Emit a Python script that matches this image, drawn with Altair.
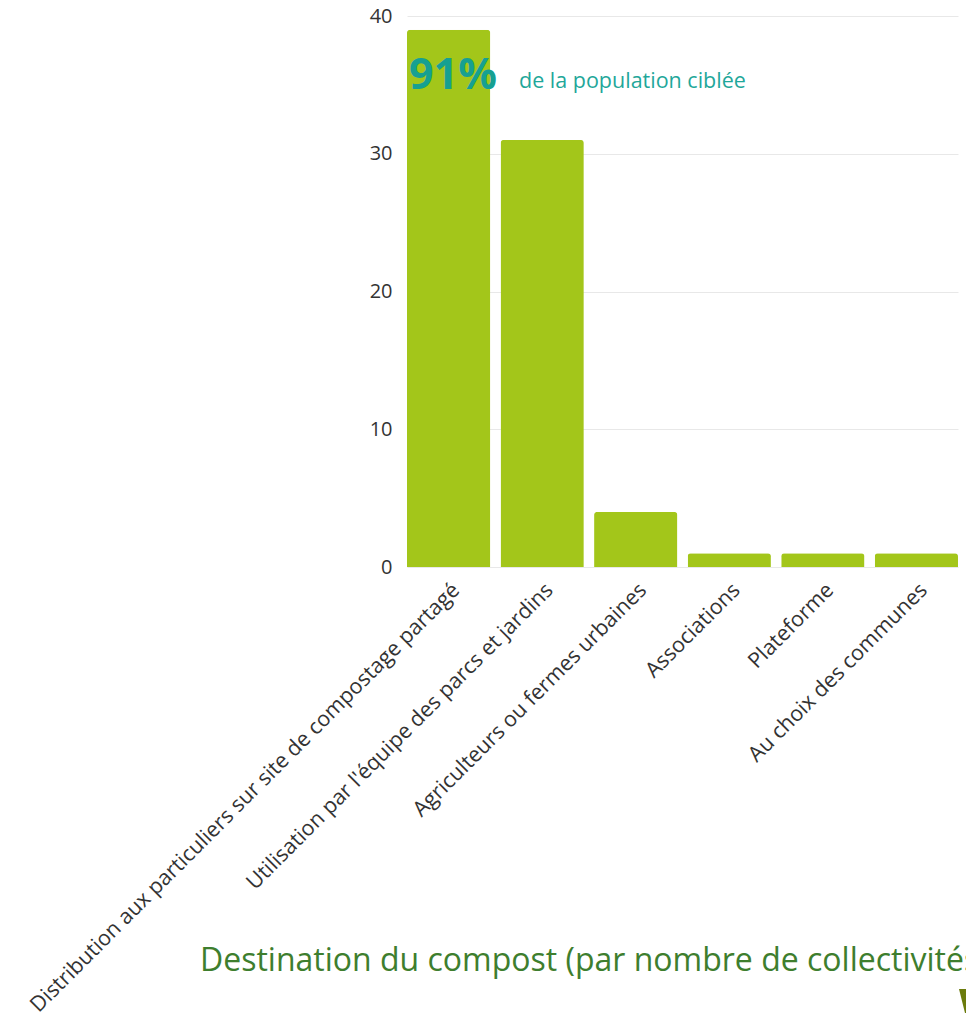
import altair as alt
import pandas as pd

categories = [
    "Distribution aux particuliers sur site de compostage partagé",
    "Utilisation par l'équipe des parcs et jardins",
    "Agriculteurs ou fermes urbaines",
    "Associations",
    "Plateforme",
    "Au choix des communes",
]
values = [39, 31, 4, 1, 1, 1]
y_ticks = [0, 10, 20, 30, 40]

title_text = "Destination du compost (par nombre de collectivités)"
big_pct = "91%"
pct_caption = "de la population ciblée"

df = pd.DataFrame({"cat": categories, "val": values})
FONT = "Open Sans"

base = alt.Chart(df)

bars = base.mark_bar(
    color="#A3C61A", cornerRadiusTopLeft=3, cornerRadiusTopRight=3
).encode(
    x=alt.X(
        "cat:N",
        sort=categories,
        title=None,
        scale=alt.Scale(paddingInner=0.11, paddingOuter=0),
        axis=alt.Axis(
            labelAngle=-45,
            labelFontSize=21.4,
            labelFont=FONT,
            labelColor="#333333",
            labelLimit=0,
            labelAlign="right",
            labelBaseline="top",
            ticks=False,
            domain=False,
            labelPadding=12,
        ),
    ),
    y=alt.Y(
        "val:Q",
        title=None,
        scale=alt.Scale(domain=[0, 40], nice=False),
        axis=alt.Axis(
            values=y_ticks,
            labelFontSize=20,
            labelFont=FONT,
            labelColor="#333333",
            ticks=False,
            domain=False,
            labelPadding=15,
            grid=True,
            gridColor="#e8e8e8",
        ),
    ),
)

ann = pd.DataFrame({"t": [big_pct]})
pct = alt.Chart(ann).mark_text(
    font=FONT, fontSize=43, fontWeight="bold", color="#16A091", align="left", baseline="alphabetic"
).encode(x=alt.value(2), y=alt.value(73), text="t:N")

ann2 = pd.DataFrame({"t": [pct_caption]})
cap = alt.Chart(ann2).mark_text(
    font=FONT, fontSize=21.5, color="#1FA79A", align="left", baseline="alphabetic"
).encode(x=alt.value(112), y=alt.value(72), text="t:N")

ann3 = pd.DataFrame({"t": [title_text]})
ttl = alt.Chart(ann3).mark_text(
    font=FONT, fontSize=32, color="#3E7E2E", align="left", baseline="alphabetic"
).encode(x=alt.value(-207), y=alt.value(955), text="t:N")

ann4 = pd.DataFrame({"t": ["deco"]})
deco = alt.Chart(ann4).mark_point(
    shape="M -1 -1 L 1 -1 L 0.5 1 L -0.5 1 Z", filled=True, color="#6B7B0C", opacity=1, size=1600
).encode(x=alt.value(572), y=alt.value(993))

chart = alt.layer(bars, pct, cap, ttl, deco).properties(
    width=551,
    height=551,
    autosize=alt.AutoSizeParams(type="none"),
    padding={"left": 399, "top": 8, "right": 8, "bottom": 446},
).configure_view(stroke=None)

chart.save("out.html", embed_options={"renderer": "svg", "actions": False})
